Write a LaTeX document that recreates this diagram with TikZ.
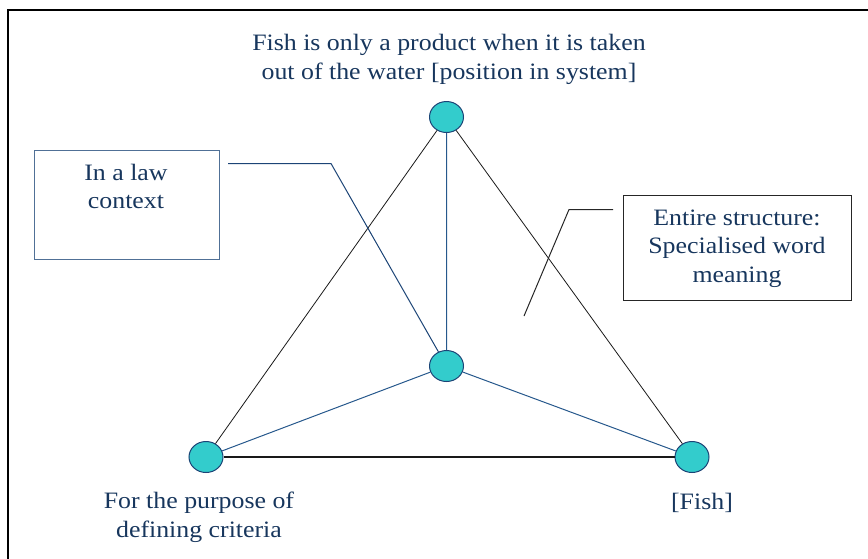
\documentclass[tikz,border=0pt]{standalone}
\usepackage{fontspec}
\setmainfont{Liberation Serif}[FakeStretch=1.1]
\usetikzlibrary{shapes.geometric}
\definecolor{navytext}{RGB}{23,54,93}
\definecolor{vertexfill}{RGB}{51,204,204}
\definecolor{vertexline}{RGB}{28,68,118}
\definecolor{spokeblue}{RGB}{38,88,140}
\definecolor{lawblue}{RGB}{80,112,150}

\begin{document}
\begin{tikzpicture}[x=1pt,y=-1pt,
  vertex/.style={ellipse,draw=vertexline,fill=vertexfill,line width=1pt,minimum width=34pt,minimum height=31pt,inner sep=0pt},
  caption/.style={text=navytext,align=center,inner sep=0pt,font=\fontsize{23.5}{28.5}\selectfont},
  edgeline/.style={draw=black!90,line width=0.8pt},
  spoke/.style={draw=spokeblue,line width=1pt},
  callbox/.style={draw,line width=1pt,inner sep=0pt}]
\useasboundingbox (0,0) rectangle (868,558);
\draw[line width=2pt] (8,570) -- (8,10) -- (880,10);

% vertices of the triangle
\node[vertex] (top) at (446.5,117) {};
\node[vertex] (mid) at (446.5,366) {};
\node[vertex] (left) at (206,457) {};
\node[vertex] (right) at (692,457) {};

% texts (base = last line)
\node[caption,anchor=base] (toptext) at (449,79) {Fish is only a product when it is taken\\out of the water [position in system]};
\node[caption,anchor=base] (lefttext) at (199,537) {For the purpose of\\defining criteria};
\node[caption,anchor=base] (righttext) at (702,509) {[Fish]};

% boxes
\node[callbox,draw=lawblue,minimum width=185pt,minimum height=109pt] (law) at (126.5,204.5) {};
\node[caption,anchor=base] (lawtext) at (126,208.5) {In a law\\context};
\node[callbox,draw=black!85,minimum width=228pt,minimum height=105pt] (entire) at (737,247.5) {};
\node[caption,anchor=base] (entiretext) at (737,282) {Entire structure:\\Specialised word\\meaning};

% edges
\path[edgeline] (top) -- (left)
  (top) -- (right);
\path[edgeline,line width=1.3pt] (left) -- (right);
\path[spoke] (top) -- (mid)
  (mid) -- (left)
  (mid) -- (right);

% callout lines
\coordinate (lawtip) at (228,163.5);
\coordinate (lawbend) at (331,163.5);
\draw[draw=vertexline,line width=1pt] (lawtip) -- (lawbend) -- (mid);
\coordinate (entiretip) at (613,209.5);
\coordinate (entirebend) at (569,209.5);
\coordinate (entireend) at (524,316);
\draw[black!85,line width=1pt] (entiretip) -- (entirebend) -- (entireend);
\end{tikzpicture}
\end{document}
